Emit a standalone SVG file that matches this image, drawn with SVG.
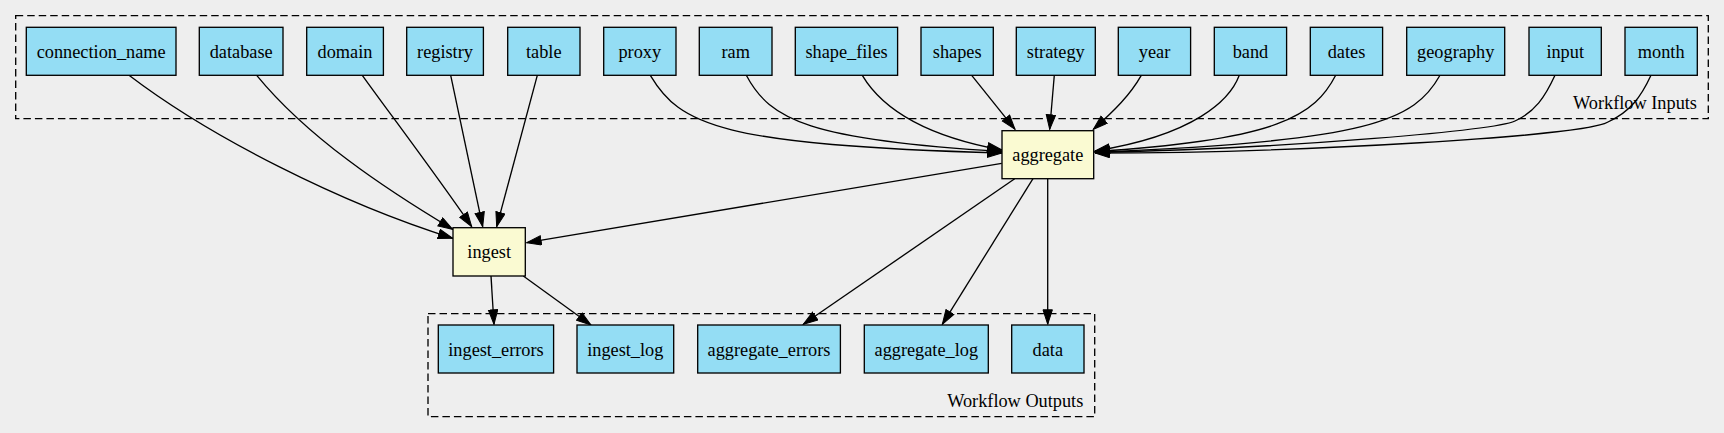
<svg xmlns="http://www.w3.org/2000/svg" width="1724" height="433" viewBox="0 0 1724 433">
<defs>
<style>
.bg{fill:#eeeeee}
.cluster{fill:none;stroke:#000;stroke-width:1.33;stroke-dasharray:7.5,4}
.io{fill:#94ddf4;stroke:#000;stroke-width:1.33}
.step{fill:#fafad2;stroke:#000;stroke-width:1.33}
text{font-family:"Liberation Serif","Times New Roman",serif;font-size:18.3px;fill:#000}
.lbl{text-anchor:middle}
.clbl{text-anchor:end}
.edge{fill:none;stroke:#000;stroke-width:1.33;marker-end:url(#arr)}
</style>
<marker id="arr" markerUnits="userSpaceOnUse" markerWidth="18" markerHeight="12" refX="15" refY="5.2" orient="auto">
<path d="M0.5,0.5 L15,5.2 L0.5,9.9 Z" fill="#000" stroke="#000" stroke-width="1"/>
</marker>
</defs>
<rect class="bg" x="0" y="0" width="1724" height="433"/>

<g id="cluster_inputs">
<rect class="cluster" x="15.7" y="15.7" width="1692.6" height="103"/>
<text class="clbl" x="1697" y="109">Workflow Inputs</text>
</g>
<g id="cluster_outputs">
<rect class="cluster" x="428" y="313.7" width="666.7" height="103"/>
<text class="clbl" x="1083.3" y="406.7">Workflow Outputs</text>
</g>

<g id="edges">
<path class="edge" d="M129,75.3 C210,137 340,203 452.7,238.3"/>
<path class="edge" d="M256.7,75.3 C307.4,137.1 384.1,188.2 452.7,229.3"/>
<path class="edge" d="M362.3,75.3 C385,107 440,180 471.7,226.7"/>
<path class="edge" d="M450.7,75.3 L482.7,226.7"/>
<path class="edge" d="M537.3,75.3 L496.7,226.7"/>
<path class="edge" d="M650.3,75.3 C680,125 720,145 1002,153"/>
<path class="edge" d="M746.3,75.3 C770,120 810,140 1002,151.5"/>
<path class="edge" d="M862.3,75.3 C880,105 920,135 1002,150"/>
<path class="edge" d="M971.7,75.3 L1015,129.3"/>
<path class="edge" d="M1054.3,75.3 L1049.7,129.3"/>
<path class="edge" d="M1141.3,75.3 C1130,95 1115,110 1093.3,129.3"/>
<path class="edge" d="M1239.3,75.3 C1230,100 1195,135 1095,151"/>
<path class="edge" d="M1335.7,75.3 C1315,115 1280,140 1095,151.5"/>
<path class="edge" d="M1440,75.3 C1415,120 1370,142 1095,152"/>
<path class="edge" d="M1555,75.3 C1545,97 1535,112 1515,121 C1495,130 1300,148 1095,152.5"/>
<path class="edge" d="M1651,75.3 C1641,97 1630,112 1608,122 C1585,136 1300,153 1095,153"/>
<path class="edge" d="M1001.7,163.3 L526.7,242.7"/>
<path class="edge" d="M1014.7,178.7 L803.3,324.3"/>
<path class="edge" d="M1033,178.7 L942.3,324.3"/>
<path class="edge" d="M1047.7,178.7 L1047.7,324.3"/>
<path class="edge" d="M491,276 L494,324.3"/>
<path class="edge" d="M523.3,276 L591,325"/>
</g>

<g id="connection_name"><rect class="io" x="26.3" y="27.3" width="149.7" height="48"/><text class="lbl" x="101.2" y="57.8">connection_name</text></g>
<g id="database"><rect class="io" x="199.3" y="27.3" width="83.7" height="48"/><text class="lbl" x="241.2" y="57.8">database</text></g>
<g id="domain"><rect class="io" x="306.7" y="27.3" width="76.7" height="48"/><text class="lbl" x="345" y="57.8">domain</text></g>
<g id="registry"><rect class="io" x="406.7" y="27.3" width="76.7" height="48"/><text class="lbl" x="445" y="57.8">registry</text></g>
<g id="table"><rect class="io" x="507.7" y="27.3" width="72.3" height="48"/><text class="lbl" x="543.8" y="57.8">table</text></g>
<g id="proxy"><rect class="io" x="603.7" y="27.3" width="72.3" height="48"/><text class="lbl" x="639.8" y="57.8">proxy</text></g>
<g id="ram"><rect class="io" x="699.3" y="27.3" width="72.7" height="48"/><text class="lbl" x="735.7" y="57.8">ram</text></g>
<g id="shape_files"><rect class="io" x="795.3" y="27.3" width="102.3" height="48"/><text class="lbl" x="846.5" y="57.8">shape_files</text></g>
<g id="shapes"><rect class="io" x="921" y="27.3" width="72.3" height="48"/><text class="lbl" x="957.2" y="57.8">shapes</text></g>
<g id="strategy"><rect class="io" x="1016.3" y="27.3" width="79" height="48"/><text class="lbl" x="1055.8" y="57.8">strategy</text></g>
<g id="year"><rect class="io" x="1118.3" y="27.3" width="72.3" height="48"/><text class="lbl" x="1154.5" y="57.8">year</text></g>
<g id="band"><rect class="io" x="1214.3" y="27.3" width="72.3" height="48"/><text class="lbl" x="1250.5" y="57.8">band</text></g>
<g id="dates"><rect class="io" x="1310.3" y="27.3" width="72.3" height="48"/><text class="lbl" x="1346.5" y="57.8">dates</text></g>
<g id="geography"><rect class="io" x="1406.7" y="27.3" width="98" height="48"/><text class="lbl" x="1455.7" y="57.8">geography</text></g>
<g id="input"><rect class="io" x="1529" y="27.3" width="72.3" height="48"/><text class="lbl" x="1565.2" y="57.8">input</text></g>
<g id="month"><rect class="io" x="1625" y="27.3" width="72.3" height="48"/><text class="lbl" x="1661.2" y="57.8">month</text></g>

<g id="aggregate"><rect class="step" x="1002" y="130.7" width="91.7" height="48"/><text class="lbl" x="1047.8" y="161.2">aggregate</text></g>
<g id="ingest"><rect class="step" x="453" y="227.7" width="72.3" height="48.3"/><text class="lbl" x="489.2" y="258.3">ingest</text></g>

<g id="ingest_errors"><rect class="io" x="438.3" y="325" width="115.3" height="48"/><text class="lbl" x="496" y="355.5">ingest_errors</text></g>
<g id="ingest_log"><rect class="io" x="577" y="325" width="96.7" height="48"/><text class="lbl" x="625.3" y="355.5">ingest_log</text></g>
<g id="aggregate_errors"><rect class="io" x="697.7" y="325" width="142.7" height="48"/><text class="lbl" x="769" y="355.5">aggregate_errors</text></g>
<g id="aggregate_log"><rect class="io" x="864.3" y="325" width="124" height="48"/><text class="lbl" x="926.3" y="355.5">aggregate_log</text></g>
<g id="data"><rect class="io" x="1011.7" y="325" width="72.3" height="48"/><text class="lbl" x="1047.8" y="355.5">data</text></g>
</svg>
